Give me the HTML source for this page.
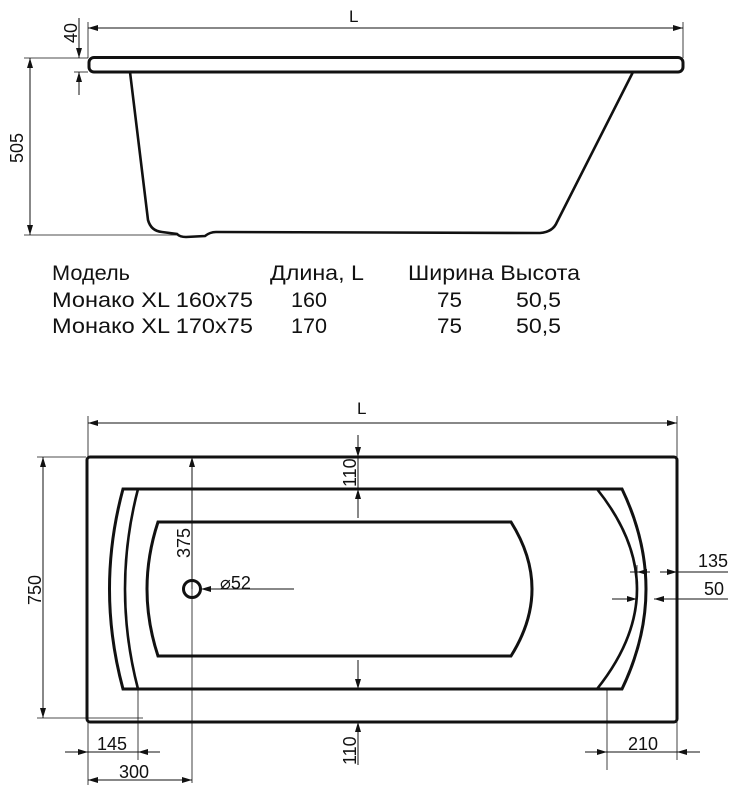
<!DOCTYPE html>
<html><head><meta charset="utf-8"><style>
html,body{margin:0;padding:0;background:#fff;}
svg{display:block;}
text{font-family:"Liberation Sans","DejaVu Sans",sans-serif;fill:#111;}
</style></head><body>
<svg width="749" height="800" viewBox="0 0 749 800" xmlns="http://www.w3.org/2000/svg">
<defs>
<marker id="a" viewBox="0 0 10 6" refX="10" refY="3" markerWidth="10" markerHeight="6" orient="auto-start-reverse" markerUnits="userSpaceOnUse"><path d="M0,0 L10,3 L0,6 z" fill="#111"/></marker>
</defs>
<rect width="749" height="800" fill="#fff"/>
<g stroke="#111" fill="none">
<line x1="88" y1="28" x2="683" y2="28" stroke-width="1" marker-start="url(#a)" marker-end="url(#a)"/>
<line x1="88" y1="22" x2="88" y2="58" stroke-width="0.8"/>
<line x1="683" y1="22" x2="683" y2="58" stroke-width="0.8"/>
<rect x="89" y="57.5" width="594" height="14.5" rx="5" stroke-width="3"/>
<path d="M130,72 L148,220 Q151,231 162,232 L177,234 Q180,237 186,237 L205,236 Q210,232 216,232 L540,233 Q553,232 557,222 L633,72" stroke-width="2.6"/>
<line x1="30" y1="58" x2="30" y2="235" stroke-width="1" marker-start="url(#a)" marker-end="url(#a)"/>
<line x1="24" y1="58" x2="88" y2="58" stroke-width="0.8"/>
<line x1="24" y1="235" x2="177" y2="235" stroke-width="0.8"/>
<line x1="79" y1="18" x2="79" y2="58" stroke-width="1" marker-end="url(#a)"/>
<line x1="79" y1="95" x2="79" y2="72" stroke-width="1" marker-end="url(#a)"/>
<line x1="74" y1="72" x2="88" y2="72" stroke-width="0.8"/>
</g>
<text font-size="18" transform="translate(77,43) rotate(-90)">40</text>
<text font-size="18" transform="translate(23,163) rotate(-90)">505</text>
<text x="349" y="22" font-size="17">L</text>

<g font-size="21">
<text x="52" y="280" textLength="78" lengthAdjust="spacingAndGlyphs">Модель</text>
<text x="270" y="280" textLength="94" lengthAdjust="spacingAndGlyphs">Длина, L</text>
<text x="408" y="280" textLength="172" lengthAdjust="spacingAndGlyphs">Ширина Высота</text>
<text x="52" y="307" textLength="201" lengthAdjust="spacingAndGlyphs">Монако XL 160x75</text>
<text x="291" y="307" textLength="36" lengthAdjust="spacingAndGlyphs">160</text>
<text x="437" y="307" textLength="25" lengthAdjust="spacingAndGlyphs">75</text>
<text x="516" y="307" textLength="45" lengthAdjust="spacingAndGlyphs">50,5</text>
<text x="52" y="333" textLength="201" lengthAdjust="spacingAndGlyphs">Монако XL 170x75</text>
<text x="291" y="333" textLength="36" lengthAdjust="spacingAndGlyphs">170</text>
<text x="437" y="333" textLength="25" lengthAdjust="spacingAndGlyphs">75</text>
<text x="516" y="333" textLength="45" lengthAdjust="spacingAndGlyphs">50,5</text>
</g>

<g stroke="#111" fill="none">
<line x1="88" y1="423" x2="677" y2="423" stroke-width="1" marker-start="url(#a)" marker-end="url(#a)"/>
<line x1="88" y1="416" x2="88" y2="457" stroke-width="0.8"/>
<line x1="677" y1="416" x2="677" y2="457" stroke-width="0.8"/>
<rect x="87" y="457" width="590" height="265" rx="3" stroke-width="3"/>
<path d="M123,489 L622,489 Q670,589 622,689 L123,689 Q96,589 123,489 Z" stroke-width="3"/>
<path d="M138,489 Q112,589 138,689" stroke-width="2.6"/>
<path d="M597,489 Q677,589 597,689" stroke-width="2.6"/>
<path d="M158,522 L511,522 Q553,589 511,656 L158,656 Q136,589 158,522 Z" stroke-width="3"/>
<circle cx="192" cy="589" r="8.5" stroke-width="3"/>
<line x1="294" y1="589" x2="201" y2="589" stroke-width="1" marker-end="url(#a)"/>
<line x1="192" y1="589" x2="192" y2="457" stroke-width="1" marker-end="url(#a)"/>
<line x1="192" y1="589" x2="192" y2="783" stroke-width="0.8"/>
<line x1="358" y1="435" x2="358" y2="457" stroke-width="1" marker-end="url(#a)"/>
<line x1="358" y1="518" x2="358" y2="489" stroke-width="1" marker-end="url(#a)"/>
<line x1="358" y1="457" x2="358" y2="489" stroke-width="1"/>
<line x1="358" y1="660" x2="358" y2="689" stroke-width="1" marker-end="url(#a)"/>
<line x1="358" y1="765" x2="358" y2="722" stroke-width="1" marker-end="url(#a)"/>
<line x1="43" y1="457" x2="43" y2="718" stroke-width="1" marker-start="url(#a)" marker-end="url(#a)"/>
<line x1="37" y1="457" x2="86" y2="457" stroke-width="0.8"/>
<line x1="37" y1="718" x2="143" y2="718" stroke-width="0.8"/>
<line x1="65" y1="752" x2="88" y2="752" stroke-width="1" marker-end="url(#a)"/>
<line x1="160" y1="752" x2="138" y2="752" stroke-width="1" marker-end="url(#a)"/>
<line x1="88" y1="752" x2="138" y2="752" stroke-width="1"/>
<line x1="88" y1="722" x2="88" y2="785" stroke-width="0.8"/>
<line x1="138" y1="689" x2="138" y2="760" stroke-width="0.8"/>
<line x1="88" y1="780" x2="192" y2="780" stroke-width="1" marker-start="url(#a)" marker-end="url(#a)"/>
<line x1="585" y1="752" x2="607" y2="752" stroke-width="1" marker-end="url(#a)"/>
<line x1="700" y1="752" x2="677" y2="752" stroke-width="1" marker-end="url(#a)"/>
<line x1="607" y1="752" x2="677" y2="752" stroke-width="1"/>
<line x1="607" y1="689" x2="607" y2="770" stroke-width="0.8"/>
<line x1="677" y1="722" x2="677" y2="760" stroke-width="0.8"/>
<line x1="630" y1="572" x2="637" y2="572" stroke-width="1"/>
<line x1="650" y1="572" x2="637" y2="572" stroke-width="1" marker-end="url(#a)"/>
<line x1="660" y1="572" x2="677" y2="572" stroke-width="1" marker-end="url(#a)"/>
<line x1="677" y1="572" x2="728" y2="572" stroke-width="1"/>
<line x1="637" y1="565" x2="637" y2="583" stroke-width="0.8"/>
<line x1="612" y1="599" x2="637" y2="599" stroke-width="1" marker-end="url(#a)"/>
<line x1="680" y1="599" x2="654" y2="599" stroke-width="1" marker-end="url(#a)"/>
<line x1="654" y1="599" x2="728" y2="599" stroke-width="1"/>
</g>
<text x="357" y="414" font-size="17">L</text>
<text x="220" y="589" font-size="18">⌀52</text>
<text font-size="18" transform="translate(190,558) rotate(-90)">375</text>
<text font-size="18" transform="translate(356,487) rotate(-90)">110</text>
<text font-size="18" transform="translate(356,765) rotate(-90)">110</text>
<text font-size="18" transform="translate(41,605) rotate(-90)">750</text>
<text x="97" y="750" font-size="18">145</text>
<text x="119" y="778" font-size="18">300</text>
<text x="628" y="750" font-size="18">210</text>
<text x="698" y="567" font-size="18">135</text>
<text x="704" y="595" font-size="18">50</text>
</svg>
</body></html>
